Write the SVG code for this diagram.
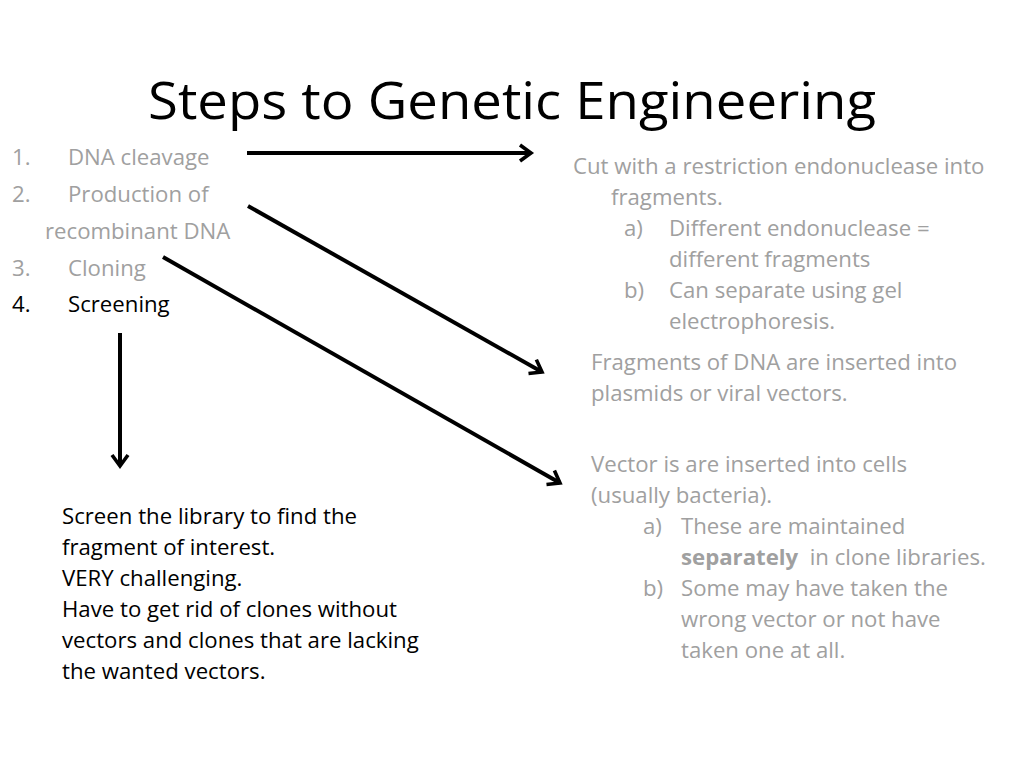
<svg xmlns="http://www.w3.org/2000/svg" width="1024" height="768" viewBox="0 0 1024 768">
<style>
text{font-family:"Open Sans","Liberation Sans",sans-serif;font-size:22.2px}
.g{fill:#a0a0a0}
.k{fill:#000}
.t{font-size:52px;fill:#000}
.c{stroke:#000;stroke-width:4;fill:none;stroke-linecap:butt}
</style>
<defs>
<marker id="ah" viewBox="0 0 20 20" refX="14" refY="10" markerWidth="20" markerHeight="20" markerUnits="userSpaceOnUse" orient="auto">
<path d="M3,2 L14,10 L3,18" fill="none" stroke="#000" stroke-width="3.6"/>
</marker>
</defs>
<rect width="1024" height="768" fill="#fff"/>
<g id="title"><text class="t" x="148" y="119" textLength="728" lengthAdjust="spacingAndGlyphs">Steps to Genetic Engineering</text></g>
<g id="steps">
<text class="g" x="12" y="165">1.</text><text class="g" x="68" y="165">DNA cleavage</text>
<text class="g" x="12" y="202">2.</text><text class="g" x="68" y="202">Production of</text>
<text class="g" x="45" y="239">recombinant DNA</text>
<text class="g" x="12" y="276">3.</text><text class="g" x="68" y="276">Cloning</text>
<text class="k" x="12" y="312">4.</text><text class="k" x="68" y="312">Screening</text>
</g>
<g id="cleavage">
<text class="g" x="573" y="174">Cut with a restriction endonuclease into</text>
<text class="g" x="611" y="205">fragments.</text>
<text class="g" x="624" y="236">a)</text><text class="g" x="669" y="236">Different endonuclease =</text>
<text class="g" x="669" y="267">different fragments</text>
<text class="g" x="624" y="298">b)</text><text class="g" x="669" y="298">Can separate using gel</text>
<text class="g" x="669" y="329">electrophoresis.</text>
</g>
<g id="recombinant">
<text class="g" x="591" y="370">Fragments of DNA are inserted into</text>
<text class="g" x="591" y="401">plasmids or viral vectors.</text>
</g>
<g id="cloning">
<text class="g" x="591" y="472">Vector is are inserted into cells</text>
<text class="g" x="591" y="503">(usually bacteria).</text>
<text class="g" x="643" y="534">a)</text><text class="g" x="681" y="534">These are maintained</text>
<text class="g" x="681" y="565"><tspan font-weight="bold">separately</tspan>&#160; in clone libraries.</text>
<text class="g" x="643" y="596">b)</text><text class="g" x="681" y="596">Some may have taken the</text>
<text class="g" x="681" y="627">wrong vector or not have</text>
<text class="g" x="681" y="658">taken one at all.</text>
</g>
<g id="screening">
<text class="k" x="62" y="524">Screen the library to find the</text>
<text class="k" x="62" y="555">fragment of interest.</text>
<text class="k" x="62" y="586">VERY challenging.</text>
<text class="k" x="62" y="617">Have to get rid of clones without</text>
<text class="k" x="62" y="648">vectors and clones that are lacking</text>
<text class="k" x="62" y="679">the wanted vectors.</text>
</g>
<g id="connectors">
<line class="c" x1="247" y1="153" x2="531" y2="153" marker-end="url(#ah)"/>
<line class="c" x1="248" y1="206" x2="542" y2="372" marker-end="url(#ah)"/>
<line class="c" x1="163" y1="257" x2="560" y2="483" marker-end="url(#ah)"/>
<line class="c" x1="120" y1="333" x2="120" y2="466" marker-end="url(#ah)"/>
</g>
</svg>
